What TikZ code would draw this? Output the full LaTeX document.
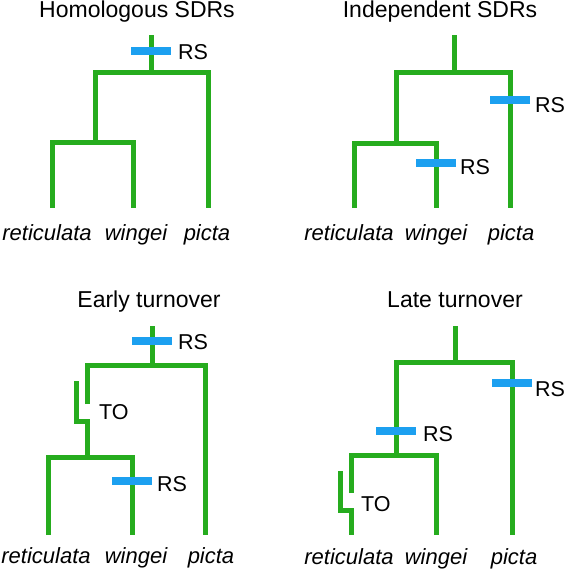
\documentclass[tikz,border=0pt]{standalone}
\usepackage{fontspec}
\setmainfont{Liberation Sans}
\definecolor{brgreen}{RGB}{38,172,30}
\definecolor{rsblue}{RGB}{28,160,240}
\begin{document}
\begin{tikzpicture}[x=1pt,y=-1pt,
  br/.style={draw=brgreen,line width=5pt,line cap=butt,line join=miter},
  rsbar/.style={fill=rsblue,draw=none,minimum width=40pt,minimum height=8pt,inner sep=0pt,outer sep=0pt},
  lbl/.style={inner sep=0pt,anchor=west,font=\fontsize{21.5}{26}\selectfont},
  ttl/.style={inner sep=0pt,anchor=base,font=\fontsize{23}{27}\selectfont},
  leaf/.style={inner sep=0pt,anchor=base,font=\fontsize{22}{26}\selectfont\itshape}]
\useasboundingbox (0,0) rectangle (566,570);
% ---------- Panel 1: Homologous SDRs
\node[ttl] (t1) at (137,17) {Homologous SDRs};
\coordinate (p1r) at (151,35);
\coordinate (p1n) at (151,72);
\coordinate (p1lo) at (95,142);
\coordinate (p1ret) at (52,208);
\coordinate (p1win) at (133,208);
\coordinate (p1pic) at (208,208);
\draw[br] (p1r) -- (p1n);
\draw[br] (p1lo) |- (p1n) -| (p1pic);
\draw[br] (p1ret) |- (p1lo) -| (p1win);
\node[rsbar] (p1b) at (151,51) {};
\node[lbl] (p1rs) at (178,52) {RS};
\node[leaf] (p1l1) at (47,240) {reticulata};
\node[leaf] (p1l2) at (136,240) {wingei};
\node[leaf] (p1l3) at (207,240) {picta};
% ---------- Panel 2: Independent SDRs
\node[ttl] (t2) at (440,17) {Independent SDRs};
\coordinate (p2r) at (454,35);
\coordinate (p2n) at (454,72);
\coordinate (p2lo) at (396,143);
\coordinate (p2ret) at (354,208);
\coordinate (p2win) at (436,208);
\coordinate (p2pic) at (510,208);
\draw[br] (p2r) -- (p2n);
\draw[br] (p2lo) |- (p2n) -| (p2pic);
\draw[br] (p2ret) |- (p2lo) -| (p2win);
\node[rsbar] (p2b1) at (510,100) {};
\node[lbl] (p2rs1) at (535,105.5) {RS};
\node[rsbar] (p2b2) at (436,163) {};
\node[lbl] (p2rs2) at (460,167) {RS};
\node[leaf] (p2l1) at (349,240) {reticulata};
\node[leaf] (p2l2) at (436,240) {wingei};
\node[leaf] (p2l3) at (511,240) {picta};
% ---------- Panel 3: Early turnover
\node[ttl] (t3) at (149,307) {Early turnover};
\coordinate (p3r) at (152,326);
\coordinate (p3n) at (152,365);
\coordinate (p3up) at (87,404);
\coordinate (p3jt) at (76,381);
\coordinate (p3jb) at (87,421);
\coordinate (p3m) at (87,457);
\coordinate (p3ret) at (48,535);
\coordinate (p3win) at (132,535);
\coordinate (p3pic) at (205,535);
\draw[br] (p3r) -- (p3n);
\draw[br] (p3up) |- (p3n) -| (p3pic);
\draw[br] (p3jt) |- (p3jb) -- (p3m);
\draw[br] (p3ret) |- (p3m) -| (p3win);
\node[rsbar] (p3b1) at (152,341) {};
\node[lbl] (p3rs1) at (178,342.5) {RS};
\node[rsbar] (p3b2) at (132,481) {};
\node[lbl] (p3rs2) at (157,484) {RS};
\node[lbl] (p3to) at (99,412) {TO};
\node[leaf] (p3l1) at (46,563) {reticulata};
\node[leaf] (p3l2) at (136,563) {wingei};
\node[leaf] (p3l3) at (211,563) {picta};
% ---------- Panel 4: Late turnover
\node[ttl] (t4) at (455,307) {Late turnover};
\coordinate (p4r) at (455,326);
\coordinate (p4n) at (455,362);
\coordinate (p4lo) at (396,455);
\coordinate (p4up) at (351,493);
\coordinate (p4jt) at (340,471);
\coordinate (p4jb) at (351,510);
\coordinate (p4ret) at (351,535);
\coordinate (p4win) at (436,535);
\coordinate (p4pic) at (512,535);
\draw[br] (p4r) -- (p4n);
\draw[br] (p4lo) |- (p4n) -| (p4pic);
\draw[br] (p4up) |- (p4lo) -| (p4win);
\draw[br] (p4jt) |- (p4jb) -- (p4ret);
\node[rsbar] (p4b1) at (512,383) {};
\node[lbl] (p4rs1) at (535,389) {RS};
\node[rsbar] (p4b2) at (396,431) {};
\node[lbl] (p4rs2) at (423,434) {RS};
\node[lbl] (p4to) at (361,504) {TO};
\node[leaf] (p4l1) at (349,564) {reticulata};
\node[leaf] (p4l2) at (436,564) {wingei};
\node[leaf] (p4l3) at (514,564) {picta};
\end{tikzpicture}
\end{document}
